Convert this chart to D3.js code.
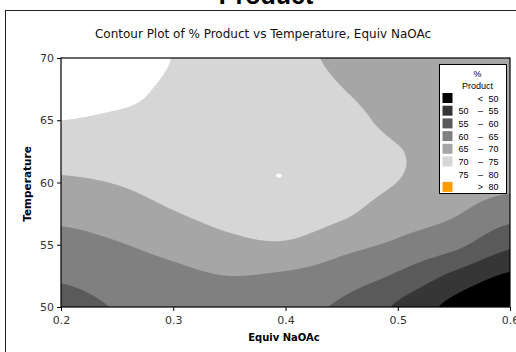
<!DOCTYPE html>
<html>
<head>
<meta charset="utf-8">
<script src="https://cdn.jsdelivr.net/npm/d3@7"></script>
<style>
  body { margin: 0; background: #fff; }
  svg { display: block; }
</style>
</head>
<body>
<div id="chart"></div>
<script>

// grid: columns = Equiv NaOAc, rows = Temperature (50 -> 70)
var equivNaOAc = [0.2, 0.25, 0.3, 0.35, 0.4, 0.45, 0.5, 0.55, 0.6];
var temperature = [50, 52.5, 55, 57.5, 60, 62.5, 65, 67.5, 70];
var product = [
  [58.0, 60.3, 61.5, 62.5, 61.3, 59.3, 54.3, 48.5, 44.0],
  [60.7, 62.6, 63.8, 65.0, 64.3, 62.5, 59.3, 53.9, 49.2],
  [63.3, 64.7, 66.5, 68.7, 69.4, 66.5, 64.2, 61.3, 56.0],
  [66.2, 67.5, 69.7, 71.8, 73.2, 70.8, 67.3, 65.4, 61.8],
  [69.3, 70.2, 72.0, 73.8, 74.905, 72.6, 69.95, 67.5, 66.3],
  [72.1, 72.5, 73.5, 74.2, 74.5, 73.0, 70.25, 68.3, 67.4],
  [75.0, 74.4, 74.2, 73.8, 73.3, 71.8, 68.6, 68.0, 67.6],
  [77.0, 76.2, 74.3, 73.2, 72.2, 70.1, 67.6, 67.6, 67.6],
  [78.5, 78.0, 74.9, 72.8, 71.2, 69.2, 67.0, 67.3, 67.5]
];

var levels = [50, 55, 60, 65, 70, 75, 80];
var levelColors = ["#363636", "#5a5a5a", "#808080", "#a6a6a6", "#d6d6d6", "#ffffff", "#ff9900"];
var belowColor = "#000000";
var legendLabels = [["", "<", "50"], ["50", "\u2013", "55"], ["55", "\u2013", "60"], ["60", "\u2013", "65"],
                    ["65", "\u2013", "70"], ["70", "\u2013", "75"], ["75", "\u2013", "80"], ["", ">", "80"]];
var xTicks = [0.2, 0.3, 0.4, 0.5, 0.6];
var yTicks = [50, 55, 60, 65, 70];

var width = 516, height = 352;
var margin = {left: 61, top: 58, right: 516 - 510, bottom: 352 - 307};
var plotW = width - margin.left - margin.right;
var plotH = height - margin.top - margin.bottom;

var svg = d3.select("#chart").append("svg")
  .attr("width", width)
  .attr("height", height)
  .style("font-family", "'DejaVu Sans', sans-serif");

// outer frame + cut off heading from the page above
svg.append("rect")
  .attr("x", 5.5).attr("y", 10.5)
  .attr("width", 600).attr("height", 400)
  .attr("fill", "none").attr("stroke", "#222");

svg.append("text")
  .attr("x", 266).attr("y", 4)
  .attr("text-anchor", "middle")
  .style("font-family", "'Liberation Sans', Arial, sans-serif")
  .style("font-weight", "bold").style("font-size", "25px")
  .text("Product");

svg.append("text")
  .attr("x", 263).attr("y", 38)
  .attr("text-anchor", "middle")
  .style("font-size", "12px").attr("fill", "#111")
  .text("Contour Plot of % Product vs Temperature, Equiv NaOAc");

var x = d3.scaleLinear().domain([0.2, 0.6]).range([0, plotW]);
var y = d3.scaleLinear().domain([50, 70]).range([plotH, 0]);

// fractional grid position of a data value
var gx = d3.scaleLinear().domain(d3.extent(equivNaOAc)).range([0, equivNaOAc.length - 1]);
var gy = d3.scaleLinear().domain(d3.extent(temperature)).range([0, temperature.length - 1]);

function cr(p0, p1, p2, p3, t) {
  return 0.5 * (2 * p1 + (-p0 + p2) * t + (2 * p0 - 5 * p1 + 4 * p2 - p3) * t * t + (-p0 + 3 * p1 - 3 * p2 + p3) * t * t * t);
}

function at(r, c) {
  r = Math.max(0, Math.min(temperature.length - 1, r));
  c = Math.max(0, Math.min(equivNaOAc.length - 1, c));
  return product[r][c];
}

// smooth surface between the grid points (bicubic)
function surface(xv, tv) {
  var fx = gx(xv), fy = gy(tv);
  var c = Math.min(Math.floor(fx), equivNaOAc.length - 2), r = Math.min(Math.floor(fy), temperature.length - 2);
  var tx = fx - c, ty = fy - r;
  var rows = [];
  for (var k = -1; k <= 2; k++) {
    rows.push(cr(at(r + k, c - 1), at(r + k, c), at(r + k, c + 1), at(r + k, c + 2), tx));
  }
  return cr(rows[0], rows[1], rows[2], rows[3], ty);
}

var W = Math.round(plotW), H = Math.round(plotH);
var values = new Array(W * H);
for (var j = 0; j < H; j++) {
  for (var i = 0; i < W; i++) {
    values[j * W + i] = surface(x.invert(i + 0.5), y.invert(j + 0.5));
  }
}

var contours = d3.contours().size([W, H]).thresholds(levels)(values);

svg.append("clipPath").attr("id", "plotclip")
  .append("rect").attr("width", plotW).attr("height", plotH);

var plot = svg.append("g")
  .attr("transform", "translate(" + margin.left + "," + margin.top + ")");

var bands = plot.append("g").attr("clip-path", "url(#plotclip)");

bands.append("rect")
  .attr("width", plotW).attr("height", plotH)
  .attr("fill", belowColor);

bands.selectAll("path")
  .data(contours)
  .enter()
  .append("path")
  .attr("d", d3.geoPath())
  .attr("fill", function(d, i) { return levelColors[i]; });

// axes
var xAxis = plot.append("g")
  .attr("transform", "translate(0," + plotH + ")")
  .call(d3.axisBottom(x).tickValues(xTicks).tickFormat(d3.format(".1f")).tickSizeOuter(0).tickSize(4));

var yAxis = plot.append("g")
  .call(d3.axisLeft(y).tickValues(yTicks).tickSizeOuter(0).tickSize(4));

[xAxis, yAxis].forEach(function(a) {
  a.selectAll("text").style("font-size", "11px").attr("fill", "#333")
    .style("font-family", "'DejaVu Sans', sans-serif");
  a.selectAll("line").attr("stroke", "#000");
  a.select(".domain").remove();
});
xAxis.selectAll("text").attr("dy", "0.95em");

plot.append("rect")
  .attr("width", plotW).attr("height", plotH)
  .attr("fill", "none").attr("stroke", "#000").attr("stroke-width", 1.2);

svg.append("text")
  .attr("x", 284).attr("y", 341)
  .attr("text-anchor", "middle")
  .style("font-size", "10px").style("font-weight", "bold")
  .text("Equiv NaOAc");

svg.append("text")
  .attr("transform", "translate(31,184) rotate(-90)")
  .attr("text-anchor", "middle")
  .style("font-size", "10.5px").style("font-weight", "bold")
  .text("Temperature");

// legend
var legend = svg.append("g")
  .attr("transform", "translate(439.5,64.5)")
  .style("font-family", "'Liberation Sans', Arial, sans-serif")
  .style("font-size", "9px");

legend.append("rect")
  .attr("width", 67).attr("height", 129)
  .attr("fill", "#fff").attr("stroke", "#000");

legend.append("text").attr("x", 38).attr("y", 12).attr("text-anchor", "middle").text("%");
legend.append("text").attr("x", 38).attr("y", 24).attr("text-anchor", "middle").text("Product");

var swatchColors = [belowColor].concat(levelColors);

var rows = legend.selectAll(".row")
  .data(legendLabels)
  .enter()
  .append("g")
  .attr("class", "row")
  .attr("transform", function(d, i) { return "translate(0," + (28.5 + i * 12.7) + ")"; });

rows.append("rect")
  .attr("x", 3).attr("width", 10).attr("height", 10)
  .attr("fill", function(d, i) { return swatchColors[i]; });

rows.append("text").attr("x", 29).attr("y", 8.5).attr("text-anchor", "end").text(function(d) { return d[0]; });
rows.append("text").attr("x", 41).attr("y", 8.5).attr("text-anchor", "middle").text(function(d) { return d[1]; });
rows.append("text").attr("x", 49).attr("y", 8.5).text(function(d) { return d[2]; });

</script>
</body>
</html>
